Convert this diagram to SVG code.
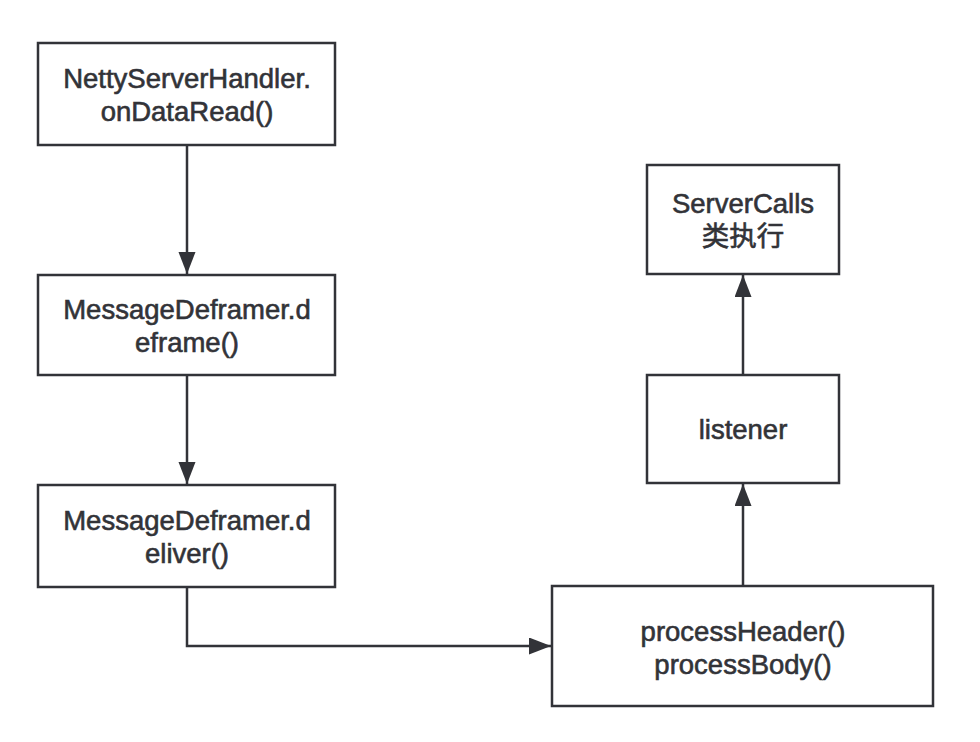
<svg xmlns="http://www.w3.org/2000/svg" width="980" height="742" viewBox="0 0 980 742">
<style>
.box{fill:#ffffff;stroke:#323338;stroke-width:2.5}
.lbl{font-family:"Liberation Sans","Noto Sans CJK SC",sans-serif;font-size:27.5px;fill:#323338;stroke:#323338;stroke-width:0.6;text-anchor:middle}
.edge{fill:none;stroke:#323338;stroke-width:2.5}
</style>
<defs>
<marker id="arr" markerUnits="userSpaceOnUse" markerWidth="24" markerHeight="18" refX="22" refY="8.5" orient="auto">
<path d="M0,0 L22,8.5 L0,17 z" fill="#323338"/>
</marker>
</defs>
<rect width="980" height="742" fill="#ffffff"/>
<g id="connectors">
<path class="edge" d="M187,145 V274" marker-end="url(#arr)"/>
<path class="edge" d="M187,375 V484" marker-end="url(#arr)"/>
<path class="edge" d="M187,587 V646 H551" marker-end="url(#arr)"/>
<path class="edge" d="M743,586 V484" marker-end="url(#arr)"/>
<path class="edge" d="M743,375 V275" marker-end="url(#arr)"/>
</g>
<g id="n1">
<rect class="box" x="38" y="43" width="297" height="102"/>
<text class="lbl" x="187" y="88">NettyServerHandler.</text>
<text class="lbl" x="187" y="121">onDataRead()</text>
</g>
<g id="n2">
<rect class="box" x="38" y="275" width="297" height="100"/>
<text class="lbl" x="187" y="319">MessageDeframer.d</text>
<text class="lbl" x="187" y="352">eframe()</text>
</g>
<g id="n3">
<rect class="box" x="38" y="485" width="297" height="102"/>
<text class="lbl" x="187" y="530">MessageDeframer.d</text>
<text class="lbl" x="187" y="563">eliver()</text>
</g>
<g id="n4">
<rect class="box" x="552" y="586" width="381" height="120"/>
<text class="lbl" x="743" y="641">processHeader()</text>
<text class="lbl" x="743" y="674">processBody()</text>
</g>
<g id="n5">
<rect class="box" x="647" y="375" width="192" height="108"/>
<text class="lbl" x="743" y="439">listener</text>
</g>
<g id="n6">
<rect class="box" x="647" y="165" width="192" height="109"/>
<text class="lbl" x="743" y="213">ServerCalls</text>
<text class="lbl" x="743" y="246">类执行</text>
</g>
</svg>
